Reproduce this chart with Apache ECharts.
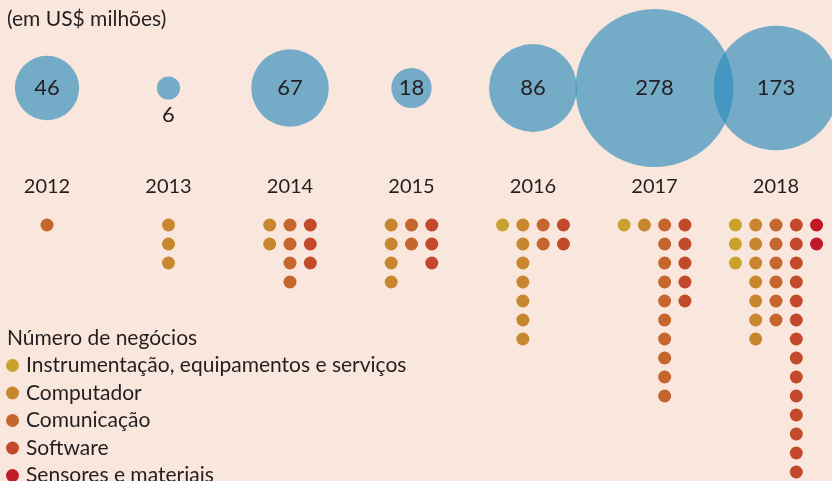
<!DOCTYPE html>
<html>
<head>
<meta charset="utf-8">
<script src="https://cdn.jsdelivr.net/npm/echarts@6/dist/echarts.min.js"></script>
<style>
html,body{margin:0;padding:0;background:#f9e6dc;}
#chart{width:832px;height:481px;}
</style>
</head>
<body>
<div id="chart"></div>
<script>
// anos e valor dos negocios (US$ milhoes)
const anos = [2012, 2013, 2014, 2015, 2016, 2017, 2018];
const valores = [46, 6, 67, 18, 86, 278, 173];

// numero de negocios por categoria
const categorias = ['Instrumentação, equipamentos e serviços', 'Computador', 'Comunicação', 'Software', 'Sensores e materiais'];
const instrumentacao = [0, 0, 0, 0, 1, 1, 3];
const computador = [0, 3, 2, 4, 7, 1, 7];
const comunicacao = [1, 0, 4, 2, 2, 10, 6];
const software = [0, 0, 3, 3, 2, 5, 14];
const sensores = [0, 0, 0, 0, 0, 0, 2];

const contagens = [instrumentacao, computador, comunicacao, software, sensores];
const cores = ['#c8a22c', '#c8862e', '#c4662e', '#c24a2a', '#c01a28'];
const passo = 0.167; // distancia entre colunas, em anos

const chart = echarts.init(document.getElementById('chart'));

// monta as bolinhas de cada categoria, centradas no ano
const dotSeries = categorias.map((nome, c) => {
    const pontos = [];
    anos.forEach((ano, i) => {
        const presentes = contagens.map(arr => arr[i]).map((n, k) => n > 0 ? k : -1).filter(k => k >= 0);
        const col = presentes.indexOf(c);
        if (col < 0) return;
        const x = ano + (col - (presentes.length - 1) / 2) * passo;
        for (let r = 0; r < contagens[c][i]; r++) pontos.push([x, r]);
    });
    return {
        name: nome,
        type: 'scatter',
        xAxisIndex: 1,
        yAxisIndex: 1,
        symbolSize: 13,
        clip: false,
        itemStyle: {color: cores[c], opacity: 1},
        data: pontos
    };
});

const option = {
    backgroundColor: '#f9e6dc',
    animation: false,
    textStyle: {fontFamily: 'Lato'},
    title: [{
        text: '(em US$ milhões)',
        left: 2, top: 4,
        textStyle: {fontFamily: 'Lato', fontSize: 21, fontWeight: 'normal', color: '#231f20'}
    }, {
        text: 'Número de negócios',
        left: 2, top: 323,
        textStyle: {fontFamily: 'Lato', fontSize: 21, fontWeight: 'normal', color: '#231f20'}
    }],
    legend: {
        orient: 'vertical',
        left: 1, top: 350,
        height: 160,
        icon: 'circle',
        itemWidth: 13, itemHeight: 13,
        itemGap: 6.5,
        textStyle: {fontFamily: 'Lato', fontSize: 21, color: '#231f20', lineHeight: 21, padding: [0, 0, 0, 2]},
        selectedMode: false,
        data: categorias
    },
    grid: [
        {left: 47, width: 729, top: 40, height: 96},
        {left: 47, width: 729, top: 225, height: 247}
    ],
    xAxis: [{
        gridIndex: 0, type: 'value', min: 2012, max: 2018, interval: 1,
        axisLine: {show: false}, axisTick: {show: false}, splitLine: {show: false},
        axisLabel: {margin: 41, fontFamily: 'Lato', fontSize: 20, color: '#231f20', formatter: v => String(v)}
    }, {
        gridIndex: 1, type: 'value', min: 2012, max: 2018,
        show: false, splitLine: {show: false}
    }],
    yAxis: [{
        gridIndex: 0, type: 'value', min: -1, max: 1, show: false, splitLine: {show: false}
    }, {
        gridIndex: 1, type: 'value', min: 0, max: 13, inverse: true, show: false, splitLine: {show: false}
    }],
    series: [{
        type: 'scatter',
        xAxisIndex: 0, yAxisIndex: 0,
        clip: false,
        symbolSize: v => 9.48 * Math.sqrt(v[2]),
        itemStyle: {color: 'rgba(40,140,190,0.64)', opacity: 1},
        label: {
            show: true, position: 'inside',
            fontFamily: 'Lato', fontSize: 22, color: '#231f20',
            formatter: p => String(p.value[2])
        },
        data: anos.map((ano, i) => ({
            value: [ano, 0, valores[i]],
            label: valores[i] < 10 ? {position: 'bottom', distance: 4} : undefined
        }))
    }].concat(dotSeries)
};

chart.setOption(option);
</script>
</body>
</html>
